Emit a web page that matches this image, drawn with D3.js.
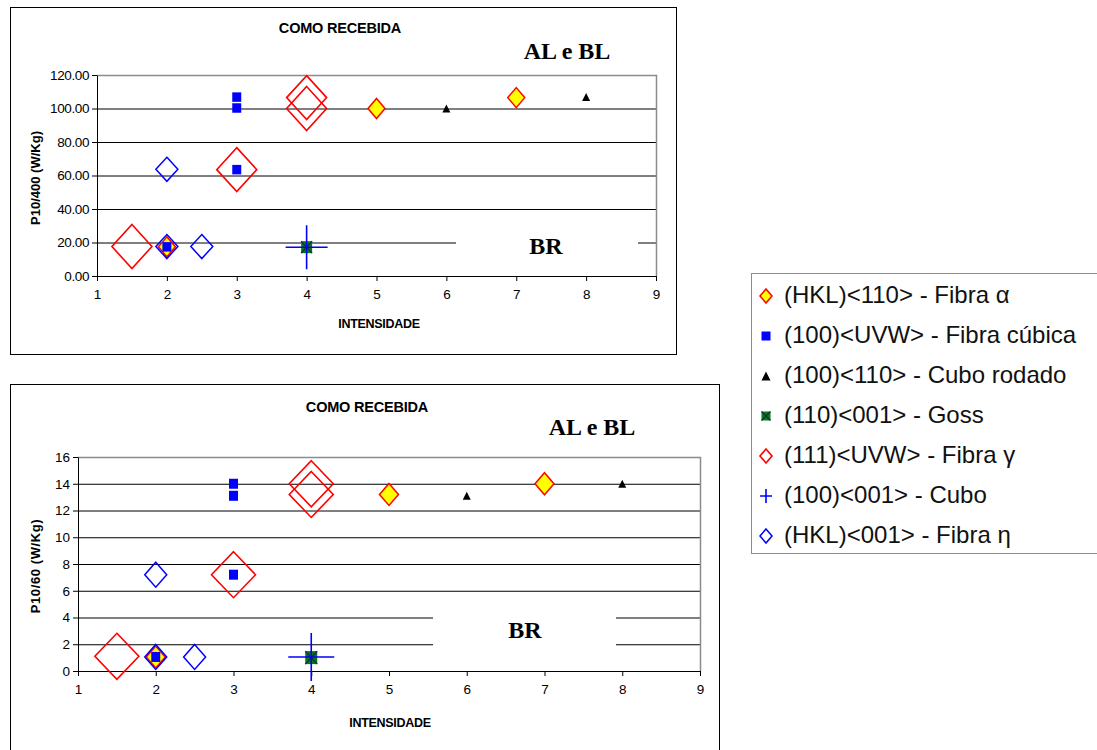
<!DOCTYPE html>
<html><head><meta charset="utf-8">
<script src="https://cdn.jsdelivr.net/npm/d3@7"></script>
<style>
html,body{margin:0;padding:0;background:#fff;}
svg{display:block;font-family:"Liberation Sans",Arial,sans-serif;}
</style></head>
<body>
<svg id="c" width="1097" height="750"></svg>
<script>
// ---------- DATA ----------
const seriesNames = ["(HKL)<110> - Fibra α","(100)<UVW> - Fibra cúbica","(100)<110> - Cubo rodado","(110)<001> - Goss","(111)<UVW> - Fibra γ","(100)<001> - Cubo","(HKL)<001> - Fibra η"];
const xTicks = [1,2,3,4,5,6,7,8,9];
const yTicksTop = [0,20,40,60,80,100,120];
const yTicksBottom = [0,2,4,6,8,10,12,14,16];
const titleText = "COMO RECEBIDA";
const xLabel = "INTENSIDADE";
const yLabelTop = "P10/400 (W/Kg)";
const yLabelBottom = "P10/60 (W/Kg)";

// top chart (P10/400)
const alphaX_top = [2,5,7],        alphaY_top = [17.4,100,106.5];
const cubicaX_top = [2,3,3,3],     cubicaY_top = [17.4,63.5,100.3,106.8];
const rodadoX_top = [6,8],         rodadoY_top = [100,106.8];
const gossX_top = [4],             gossY_top = [17.2];
const gammaX_top = [1.5,3,4,4],    gammaY_top = [17.6,63.5,100,106.5];
const cuboX_top = [4],             cuboY_top = [17.2];
const etaX_top = [2,2,2.5],        etaY_top = [63.7,17.6,17.6];

// bottom chart (P10/60)
const alphaX_bot = [2,5,7],        alphaY_bot = [1.05,13.2,14];
const cubicaX_bot = [2,3,3,3],     cubicaY_bot = [1.05,7.2,13.1,14];
const rodadoX_bot = [6,8],         rodadoY_bot = [13.1,14];
const gossX_bot = [4],             gossY_bot = [1.0];
const gammaX_bot = [1.5,3,4,4],    gammaY_bot = [1.1,7.2,13.2,14];
const cuboX_bot = [4],             cuboY_bot = [1.05];
const etaX_bot = [2,2,2.5],        etaY_bot = [7.2,1.05,1.05];

// ---------- DRAW ----------
const svg = d3.select("#c");
const SERIF = '"Liberation Serif","Times New Roman",serif';
const SANS = '"Liberation Sans",Arial,sans-serif';

function diamond(w,h){return `M0,${-h}L${w},0L0,${h}L${-w},0Z`;}
function rectP(w,h){return `M${-w/2},${-h/2}h${w}v${h}h${-w}Z`;}
function tri(w,h){return `M0,${-h/2}L${w/2},${h/2}L${-w/2},${h/2}Z`;}

function drawMarker(g, idx, s){
  if(idx===0){
    g.append("path").attr("d",diamond(s.aw,s.ah)).attr("fill","#ffff00").attr("stroke","#ff0000").attr("stroke-width",1.5);
  } else if(idx===1){
    g.append("path").attr("d",rectP(s.sq,s.sqh)).attr("fill","#0000ff");
  } else if(idx===2){
    g.append("path").attr("d",tri(s.tw,s.th)).attr("fill","#000");
  } else if(idx===3){
    g.append("path").attr("d",rectP(s.gw,s.gh)).attr("fill","#0a7a0a");
    g.append("path").attr("d",`M${-s.gw/2},${-s.gh/2}L${s.gw/2},${s.gh/2}M${s.gw/2},${-s.gh/2}L${-s.gw/2},${s.gh/2}`).attr("stroke","#0b2a5a").attr("stroke-width",1.2);
  } else if(idx===4){
    g.append("path").attr("d",diamond(s.rw,s.rh)).attr("fill","none").attr("stroke","#ff0000").attr("stroke-width",1.6);
  } else if(idx===5){
    g.append("path").attr("d",`M${-s.pw},0H${s.pw}M0,${-s.ph}V${s.ph}`).attr("stroke","#0000ff").attr("stroke-width",1.6);
  } else if(idx===6){
    g.append("path").attr("d",diamond(s.ew,s.eh)).attr("fill","none").attr("stroke","#0000ff").attr("stroke-width",1.5);
  }
}

function chart(cfg){
  const g = svg.append("g");
  g.append("rect").attr("x",cfg.frame[0]+0.5).attr("y",cfg.frame[1]+0.5)
    .attr("width",cfg.frame[2]-cfg.frame[0]).attr("height",cfg.frame[3]-cfg.frame[1])
    .attr("fill","#fff").attr("stroke","#000").attr("stroke-width",1);
  const x = d3.scaleLinear().domain([1,9]).range([cfg.px0,cfg.px1]);
  const y = d3.scaleLinear().domain([0,cfg.ymax]).range([cfg.py0,cfg.py1]);
  const W = cfg.px1-cfg.px0;
  const grid = g.append("g").attr("transform",`translate(${cfg.px0},0)`)
    .call(d3.axisLeft(y).tickValues(cfg.yTicks.filter(v=>v>0)).tickSize(-W).tickFormat(""));
  grid.select(".domain").remove();
  grid.selectAll("line").attr("stroke","#000").attr("stroke-width",1);
  g.append("path").attr("d",`M${cfg.px0},${y(cfg.ymax)+0.5}H${cfg.px1+0.5}V${cfg.py0}`)
    .attr("fill","none").attr("stroke","#8c8c8c").attr("stroke-width",1.5);
  g.append("rect").attr("x",cfg.brBox[0]).attr("y",cfg.brBox[1]).attr("width",cfg.brBox[2]-cfg.brBox[0]).attr("height",cfg.brBox[3]-cfg.brBox[1]).attr("fill","#fff");
  const ya = g.append("g").attr("transform",`translate(${cfg.px0},0)`)
    .call(d3.axisLeft(y).tickValues(cfg.yTicks).tickSizeInner(5).tickSizeOuter(0).tickPadding(3).tickFormat(cfg.yFmt));
  ya.select(".domain").attr("stroke","#000");
  ya.selectAll("line").attr("stroke","#000");
  ya.selectAll("text").style("font-size","13.5px").style("font-family",SANS).attr("fill","#000").attr("letter-spacing",cfg.yLs);
  const xa = g.append("g").attr("transform",`translate(0,${cfg.py0})`)
    .call(d3.axisBottom(x).tickValues(xTicks).tickSizeInner(5).tickSizeOuter(0).tickPadding(8).tickFormat(d3.format("d")));
  xa.select(".domain").attr("stroke","#000");
  xa.selectAll("line").attr("stroke","#000");
  xa.selectAll("text").style("font-size","13.5px").style("font-family",SANS).attr("fill","#000");
  g.append("text").attr("x",cfg.title[0]).attr("y",cfg.title[1]).attr("text-anchor","middle")
    .style("font-family",SANS).style("font-weight","bold").style("font-size","14.5px").attr("letter-spacing",-0.2).text(titleText);
  g.append("text").attr("x",cfg.al[0]).attr("y",cfg.al[1]).attr("text-anchor","middle")
    .style("font-family",SERIF).style("font-weight","bold").style("font-size","24px").text("AL e BL");
  g.append("text").attr("x",cfg.br[0]).attr("y",cfg.br[1]).attr("text-anchor","middle")
    .style("font-family",SERIF).style("font-weight","bold").style("font-size","24px").text("BR");
  g.append("text").attr("x",cfg.xl[0]).attr("y",cfg.xl[1]).attr("text-anchor","middle")
    .style("font-family",SANS).style("font-weight","bold").style("font-size","12.5px").attr("letter-spacing",-0.3).text(xLabel);
  g.append("text").attr("transform",`translate(${cfg.yl[0]},${cfg.yl[1]}) rotate(-90)`).attr("text-anchor","middle")
    .style("font-family",SANS).style("font-weight","bold").style("font-size","13px").attr("letter-spacing",cfg.ylLs).text(cfg.yLabel);
  cfg.series.forEach((s,idx)=>{
    const sg = g.append("g");
    s.xs.forEach((v,i)=>{
      const m = sg.append("g").attr("transform",`translate(${x(v)},${y(s.ys[i])})`);
      drawMarker(m, idx, cfg.sizes);
    });
  });
}

chart({
  frame:[10,7,676,354], px0:97, px1:656, py0:276, py1:75, ymax:120,
  yTicks:yTicksTop, yFmt:d3.format(".2f"), yLs:-0.4,
  title:[340,33], al:[567,59], br:[546,254], xl:[379,328], yl:[40,178], ylLs:0, yLabel:yLabelTop,
  brBox:[456,228,638,262],
  sizes:{aw:8.5,ah:10,sq:9,sqh:9.5,tw:8,th:8,gw:11,gh:12,rw:20,rh:22,pw:21,ph:22,ew:11,eh:12},
  series:[
    {xs:alphaX_top,ys:alphaY_top},{xs:cubicaX_top,ys:cubicaY_top},{xs:rodadoX_top,ys:rodadoY_top},
    {xs:gossX_top,ys:gossY_top},{xs:gammaX_top,ys:gammaY_top},{xs:cuboX_top,ys:cuboY_top},{xs:etaX_top,ys:etaY_top}
  ]
});

chart({
  frame:[10,384,719,770], px0:78, px1:700, py0:671, py1:457, ymax:16,
  yTicks:yTicksBottom, yFmt:d3.format("d"), yLs:0,
  title:[367,412], al:[592,435], br:[525,638], xl:[390,727], yl:[40,566], ylLs:0.6, yLabel:yLabelBottom,
  brBox:[433,603,616,660],
  sizes:{aw:9.5,ah:11,sq:9,sqh:10,tw:8,th:8,gw:12,gh:13,rw:22,rh:23,pw:23,ph:24,ew:11,eh:12.5},
  series:[
    {xs:alphaX_bot,ys:alphaY_bot},{xs:cubicaX_bot,ys:cubicaY_bot},{xs:rodadoX_bot,ys:rodadoY_bot},
    {xs:gossX_bot,ys:gossY_bot},{xs:gammaX_bot,ys:gammaY_bot},{xs:cuboX_bot,ys:cuboY_bot},{xs:etaX_bot,ys:etaY_bot}
  ]
});

// ---------- LEGEND ----------
const lg = svg.append("g");
lg.append("rect").attr("x",751.5).attr("y",273.5).attr("width",360).attr("height",280)
  .attr("fill","#fff").attr("stroke","#8c8c8c").attr("stroke-width",1);
const legSizes = {aw:6,ah:7,sq:9,sqh:9,tw:9,th:9,gw:9,gh:9,rw:6,rh:7,pw:6,ph:7,ew:6,eh:7};
seriesNames.forEach((name,i)=>{
  const by = 303 + i*40;
  const m = lg.append("g").attr("transform",`translate(766,${by-7})`);
  drawMarker(m, i, legSizes);
  lg.append("text").attr("x",784).attr("y",by).style("font-family",SANS).style("font-size","24px").attr("fill","#111").text(name);
});
</script>
</body></html>
